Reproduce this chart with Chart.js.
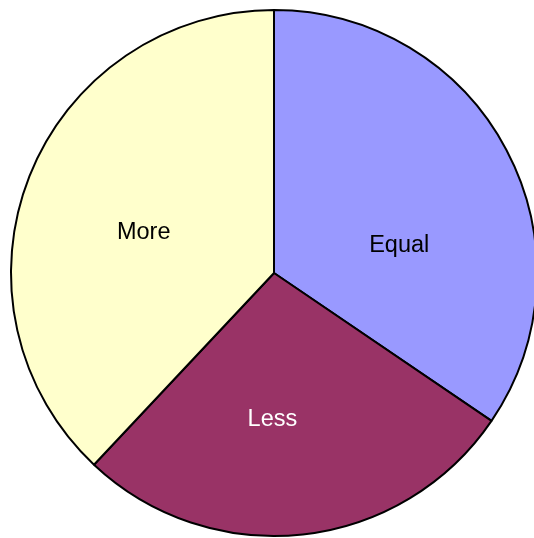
<!DOCTYPE html>
<html>
<head>
<meta charset="utf-8">
<script src="https://cdn.jsdelivr.net/npm/chart.js@4/dist/chart.umd.min.js"></script>
<style>
  html, body { margin: 0; padding: 0; background: #fff; overflow: hidden; }
  #wrap { width: 534px; height: 538px; overflow: hidden; }
</style>
</head>
<body>
<div id="wrap"><canvas id="chart" width="548" height="538"></canvas></div>
<script>
// data
const categories = ["Equal", "Less", "More"];
const shares = [34.5, 27.5, 38.0];
const sliceColors = ["#9999FF", "#993366", "#FFFFCC"];
const labelColors = ["#000000", "#FFFFFF", "#000000"];

// label text drawn inside each slice, around its middle angle
const sliceLabels = {
  id: "sliceLabels",
  afterDatasetsDraw(chart, args, opts) {
    const ctx = chart.ctx;
    const arcs = chart.getDatasetMeta(0).data;
    ctx.save();
    ctx.font = "23.5px 'Liberation Sans', Arial, sans-serif";
    ctx.textAlign = "center";
    ctx.textBaseline = "alphabetic";
    arcs.forEach((arc, i) => {
      const mid = (arc.startAngle + arc.endAngle) / 2;
      const r = arc.outerRadius * 0.5;
      const n = opts.nudge[i];
      const x = arc.x + Math.cos(mid) * r + n[0];
      const y = arc.y + Math.sin(mid) * r + n[1];
      ctx.fillStyle = labelColors[i];
      ctx.fillText(categories[i], x, y + 8.5);
    });
    ctx.restore();
  },
};

new Chart(document.getElementById("chart").getContext("2d"), {
  type: "pie",
  data: {
    labels: categories,
    datasets: [
      {
        data: shares,
        backgroundColor: sliceColors,
        borderColor: "#000000",
        borderWidth: 2,
        clip: false,
      },
    ],
  },
  options: {
    responsive: false,
    animation: false,
    layout: { padding: { top: 9, bottom: 1, left: 10, right: 10 } },
    plugins: {
      legend: { display: false },
      tooltip: { enabled: false },
      sliceLabels: { nudge: [[9, 32], [-16, 14], [-8, 6]] },
    },
  },
  plugins: [sliceLabels],
});
</script>
</body>
</html>
